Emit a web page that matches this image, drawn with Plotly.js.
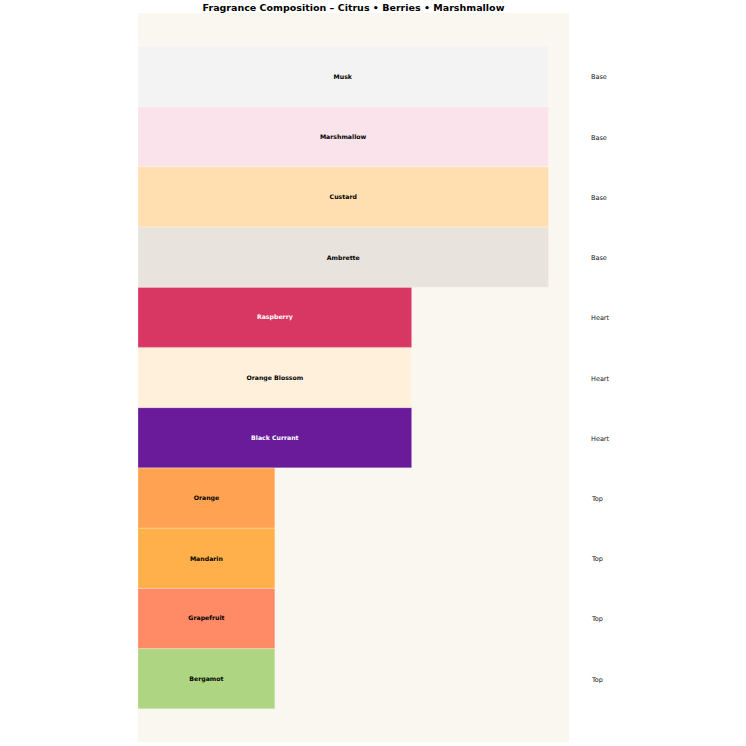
<!DOCTYPE html>
<html>
<head>
<meta charset="utf-8">
<script src="https://cdn.plot.ly/plotly-3.0.1.min.js"></script>
<style>html,body{margin:0;padding:0;background:#fff;}#chart{width:746px;height:746px;}</style>
</head>
<body>
<div id="chart"></div>
<script>
// Bottom to top order
const notes = ["Bergamot","Grapefruit","Mandarin","Orange","Black Currant","Orange Blossom","Raspberry","Ambrette","Custard","Marshmallow","Musk"];
const tiers = ["Top","Top","Top","Top","Heart","Heart","Heart","Base","Base","Base","Base"];
const tierValues = [1,1,1,1,2,2,2,3,3,3,3];
const barColors = ["#aed581","#ff8a65","#ffb04a","#ffa352","#6a1b9a","#fff0dc","#d83763","#e8e4dd","#ffdfb0","#fae3ea","#f3f3f3"];
const textColors = ["#000","#000","#000","#000","#fff","#000","#fff","#000","#000","#000","#000"];

const positions = notes.map((_, i) => i);

const trace = {
  type: "bar",
  orientation: "h",
  y: positions,
  x: tierValues,
  base: 0,
  width: 1,
  text: notes,
  textposition: "inside",
  insidetextanchor: "middle",
  constraintext: "none",
  textfont: {family: "DejaVu Sans", size: 6.2, color: textColors, weight: "bold"},
  marker: {color: barColors, line: {color: "rgba(255,255,255,0.5)", width: 0.5}},
  hoverinfo: "none",
  showlegend: false
};

const annotations = positions.map((p, i) => ({
  xref: "paper", yref: "y",
  x: 1.046, y: p,
  xanchor: "left", yanchor: "middle",
  yshift: -1,
  text: tiers[i],
  showarrow: false,
  font: {family: "DejaVu Sans", size: 6.5, color: "#111"}
}));

const layout = {
  width: 746, height: 746,
  margin: {l: 138, r: 177, t: 13, b: 4, pad: 0},
  paper_bgcolor: "#ffffff",
  plot_bgcolor: "#faf6f0",
  title: {
    text: "<b>Fragrance Composition – Citrus • Berries • Marshmallow</b>",
    font: {family: "DejaVu Sans", size: 9.5, color: "#000"},
    x: 0.5, xref: "paper", xanchor: "center",
    y: 0.99, yref: "container", yanchor: "middle"
  },
  xaxis: {range: [0, 3.15], visible: false, showgrid: false, zeroline: false, fixedrange: true},
  yaxis: {range: [-1.05, 11.05], visible: false, showgrid: false, zeroline: false, fixedrange: true},
  bargap: 0,
  annotations: annotations
};

Plotly.newPlot("chart", [trace], layout, {displayModeBar: false, staticPlot: true});
</script>
</body>
</html>
